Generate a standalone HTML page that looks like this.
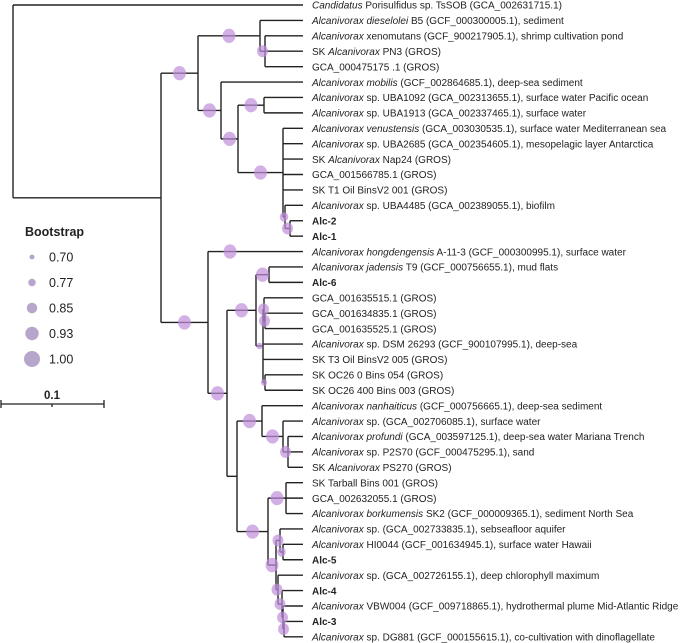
<!DOCTYPE html>
<html><head><meta charset="utf-8">
<style>
html,body{margin:0;padding:0;background:#fff;}
svg{display:block;font-family:"Liberation Sans",Arial,sans-serif;}
</style></head>
<body>
<svg id="chart" width="699" height="643" viewBox="0 0 699 643" xmlns="http://www.w3.org/2000/svg">
  <g id="branches"></g>
  <g id="boots"></g>
  <g id="labels"></g>
  <g>
    <text x="25" y="236" font-size="12.5" font-weight="bold" fill="#222">Bootstrap</text>
    <g id="legend"></g>
  </g>
  <g stroke="#222" stroke-width="1.3">
    <line x1="1" y1="404" x2="104" y2="404"/>
    <line x1="1" y1="400" x2="1" y2="408"/>
    <line x1="104" y1="400" x2="104" y2="408"/>
    <line x1="52" y1="404" x2="52" y2="407"/>
  </g>
  <text x="52" y="399" font-size="11.5" font-weight="bold" text-anchor="middle" fill="#222">0.1</text>
</svg>
<script>
const leafNames = [
"<i>Candidatus</i> Porisulfidus sp. TsSOB (GCA_002631715.1)",
"<i>Alcanivorax dieselolei</i> B5 (GCF_000300005.1), sediment",
"<i>Alcanivorax</i> xenomutans (GCF_900217905.1), shrimp cultivation pond",
"SK <i>Alcanivorax</i> PN3 (GROS)",
"GCA_000475175 .1 (GROS)",
"<i>Alcanivorax mobilis</i> (GCF_002864685.1), deep-sea sediment",
"<i>Alcanivorax</i> sp. UBA1092 (GCA_002313655.1), surface water Pacific ocean",
"<i>Alcanivorax</i> sp. UBA1913 (GCA_002337465.1), surface water",
"<i>Alcanivorax venustensis</i> (GCA_003030535.1), surface water Mediterranean sea",
"<i>Alcanivorax</i> sp. UBA2685 (GCA_002354605.1), mesopelagic layer Antarctica",
"SK <i>Alcanivorax</i> Nap24 (GROS)",
"GCA_001566785.1 (GROS)",
"SK T1 Oil BinsV2 001 (GROS)",
"<i>Alcanivorax</i> sp. UBA4485 (GCA_002389055.1), biofilm",
"<b>Alc-2</b>",
"<b>Alc-1</b>",
"<i>Alcanivorax hongdengensis</i> A-11-3 (GCF_000300995.1), surface water",
"<i>Alcanivorax jadensis</i> T9 (GCF_000756655.1), mud flats",
"<b>Alc-6</b>",
"GCA_001635515.1 (GROS)",
"GCA_001634835.1 (GROS)",
"GCA_001635525.1 (GROS)",
"<i>Alcanivorax</i> sp. DSM 26293 (GCF_900107995.1), deep-sea",
"SK T3 Oil BinsV2 005 (GROS)",
"SK OC26 0 Bins 054 (GROS)",
"SK OC26 400 Bins 003 (GROS)",
"<i>Alcanivorax nanhaiticus</i> (GCF_000756665.1), deep-sea sediment",
"<i>Alcanivorax</i> sp. (GCA_002706085.1), surface water",
"<i>Alcanivorax profundi</i> (GCA_003597125.1), deep-sea water Mariana Trench",
"<i>Alcanivorax</i> sp. P2S70 (GCF_000475295.1), sand",
"SK <i>Alcanivorax</i> PS270 (GROS)",
"SK Tarball Bins 001 (GROS)",
"GCA_002632055.1 (GROS)",
"<i>Alcanivorax borkumensis</i> SK2 (GCF_000009365.1), sediment North Sea",
"<i>Alcanivorax</i> sp. (GCA_002733835.1), sebseafloor aquifer",
"<i>Alcanivorax</i> HI0044 (GCF_001634945.1), surface water Hawaii",
"<b>Alc-5</b>",
"<i>Alcanivorax</i> sp. (GCA_002726155.1), deep chlorophyll maximum",
"<b>Alc-4</b>",
"<i>Alcanivorax</i> VBW004 (GCF_009718865.1), hydrothermal plume Mid-Atlantic Ridge",
"<b>Alc-3</b>",
"<i>Alcanivorax</i> sp. DG881 (GCF_000155615.1), co-cultivation with dinoflagellate"
];
const legendValues = [0.70, 0.77, 0.85, 0.93, 1.00];
const legendLabels = ["0.70","0.77","0.85","0.93","1.00"];
function N(d,b,c){return {d:d,b:b,c:c};}
const tree = N(13,null,[0, N(161,null,[
  N(198,1.0,[
    N(260,1.0,[1, N(265,0.93,[2,3,4])]),
    N(221,1.0,[5, N(238,1.0,[N(264,1.0,[6,7]),
      N(283,1.0,[8,9,10,11,12, N(285,0.85,[13, N(290,0.93,[14,15])])])])])
  ]),
  N(208,1.0,[16,
    N(227,1.0,[
      N(256,1.0,[N(269,1.0,[17,18]),
        N(263,0.77,[N(264,0.93,[19, N(265,0.93,[20,21])]),22,23, N(265,0.77,[24,25])])]),
      N(237,null,[
        N(262,1.0,[26, N(283,1.0,[27, N(288,0.93,[28,29,30])])]),
        N(268,1.0,[N(286,1.0,[31,32,33]),
          N(276,1.0,[N(280,0.93,[34, N(283,0.85,[35,36])]),
            N(278,0.93,[37, N(282,0.93,[38, N(283,0.93,[39, N(284,0.93,[40,41])])])])])])
      ])
    ])
  ])
])]);
const tipX = 303, y0 = 5, dy = 15.41;
const NS = "http://www.w3.org/2000/svg";
const gB = document.getElementById('branches'), gC = document.getElementById('boots'), gL = document.getElementById('labels');
function yOf(i){return y0 + dy*i;}
function line(x1,y1,x2,y2){
  const l=document.createElementNS(NS,'line');
  l.setAttribute('x1',x1);l.setAttribute('y1',y1);l.setAttribute('x2',x2);l.setAttribute('y2',y2);
  l.setAttribute('stroke','#222');l.setAttribute('stroke-width','1.4');
  
  
  gB.appendChild(l);
}
const circles=[];
function layout(n,px){
  if(typeof n==='number'){
    const y=yOf(n);
    if(px!==null) line(px,y,tipX,y);
    return y;
  }
  const ys=n.c.map(ch=>layout(ch,n.d));
  const y=(ys[0]+ys[ys.length-1])/2;
  line(n.d,ys[0],n.d,ys[ys.length-1]);
  if(px!==null){ line(px,y,n.d,y); if(n.b!==null) circles.push([(px+n.d)/2,y,n.b]); }
  return y;
}
layout(tree,null);
circles.push([230, yOf(16), 1.0]);
function rTree(b){return 2+ (b-0.7)/0.3*4.5;}
circles.forEach(c=>{
  const e=document.createElementNS(NS,'ellipse');
  e.setAttribute('cx',c[0]);e.setAttribute('cy',c[1]);
  e.setAttribute('rx',rTree(c[2]));e.setAttribute('ry',rTree(c[2])*1.1);
  e.setAttribute('fill','#bf8fdc');e.setAttribute('fill-opacity','0.7');
  
  
  gC.appendChild(e);
});
leafNames.forEach((nm,i)=>{
  const t=document.createElementNS(NS,'text');
  t.setAttribute('x',312);t.setAttribute('y',yOf(i)+3.7);
  t.setAttribute('font-size','10');t.setAttribute('fill','#222');
  
  
  t.innerHTML=nm.replace(/<i>/g,'<tspan font-style="italic">').replace(/<\/i>/g,'</tspan>').replace(/<b>/g,'<tspan font-weight="bold">').replace(/<\/b>/g,'</tspan>');
  gL.appendChild(t);
});
const gLeg=document.getElementById('legend');
legendValues.forEach((v,i)=>{
  const y=257+25.5*i;
  const c=document.createElementNS(NS,'circle');
  c.setAttribute('cx',32);c.setAttribute('cy',y);c.setAttribute('r',2.5+(v-0.7)/0.3*5.5);
  c.setAttribute('fill','#b7a6cb');
  
  
  gLeg.appendChild(c);
  const t=document.createElementNS(NS,'text');
  t.setAttribute('x',49);t.setAttribute('y',y+4.5);t.setAttribute('font-size','12.5');t.setAttribute('fill','#222');
  t.textContent=legendLabels[i];
  
  
  gLeg.appendChild(t);
});
</script>
</body></html>
